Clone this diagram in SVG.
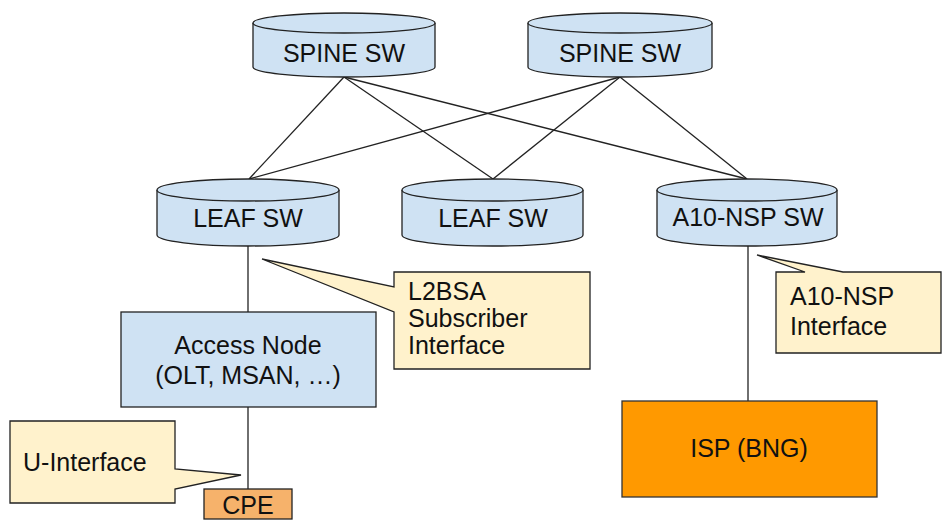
<svg xmlns="http://www.w3.org/2000/svg" width="942" height="521" viewBox="0 0 942 521">
<style>
.cyl{fill:#cfe2f3;stroke:#222;stroke-width:1.3}
.box{fill:#cfe2f3;stroke:#222;stroke-width:1.3}
.call{fill:#fff2cc;stroke:#222;stroke-width:1.3}
.conn{stroke:#222;stroke-width:1.3;fill:none}
text{font-family:"Liberation Sans",Arial,sans-serif;font-size:25px;fill:#111}
.c{text-anchor:middle}
</style>
<rect width="942" height="521" fill="#fff"/>
<g id="connectors">
<line class="conn" x1="344" y1="77" x2="249" y2="179"/>
<line class="conn" x1="344" y1="77" x2="493" y2="179"/>
<line class="conn" x1="344" y1="77" x2="747" y2="179"/>
<line class="conn" x1="620" y1="77" x2="249" y2="179"/>
<line class="conn" x1="620" y1="77" x2="493" y2="179"/>
<line class="conn" x1="620" y1="77" x2="747" y2="179"/>
<line class="conn" x1="248" y1="246" x2="248" y2="312"/>
<line class="conn" x1="248" y1="407" x2="248" y2="490"/>
<line class="conn" x1="748" y1="246" x2="748" y2="401"/>
</g>
<g id="spine1">
<path class="cyl" d="M253,23 A91,10 0 0 1 435,23 V67 A91,10 0 0 1 253,67 Z"/>
<path class="cyl" d="M253,23 A91,10 0 0 0 435,23"/>
<text class="c" x="344" y="62">SPINE SW</text>
</g>
<g id="spine2">
<path class="cyl" d="M528,23 A92,10 0 0 1 712,23 V67 A92,10 0 0 1 528,67 Z"/>
<path class="cyl" d="M528,23 A92,10 0 0 0 712,23"/>
<text class="c" x="620" y="62">SPINE SW</text>
</g>
<g id="leaf1">
<path class="cyl" d="M157,190 A91,11 0 0 1 339,190 V235 A91,11 0 0 1 157,235 Z"/>
<path class="cyl" d="M157,190 A91,11 0 0 0 339,190"/>
<text class="c" x="248" y="227">LEAF SW</text>
</g>
<g id="leaf2">
<path class="cyl" d="M402,190 A90.5,11 0 0 1 583,190 V235 A90.5,11 0 0 1 402,235 Z"/>
<path class="cyl" d="M402,190 A90.5,11 0 0 0 583,190"/>
<text class="c" x="493" y="227">LEAF SW</text>
</g>
<g id="a10sw">
<path class="cyl" d="M657,190 A90,11 0 0 1 837,190 V235 A90,11 0 0 1 657,235 Z"/>
<path class="cyl" d="M657,190 A90,11 0 0 0 837,190"/>
<text class="c" x="748" y="226">A10-NSP SW</text>
</g>
<g id="access-node">
<rect class="box" x="121" y="312" width="255" height="95"/>
<text class="c" x="248" y="354">Access Node</text>
<text class="c" x="248" y="384">(OLT, MSAN, …)</text>
</g>
<g id="cpe">
<rect x="204" y="489" width="88" height="30" fill="#f6b26b" stroke="#222" stroke-width="1.3"/>
<text class="c" x="248" y="514">CPE</text>
</g>
<g id="isp">
<rect x="622" y="401" width="255" height="96" fill="#ff9900" stroke="#333" stroke-width="1.3"/>
<text class="c" x="749" y="457">ISP (BNG)</text>
</g>
<g id="callout-l2bsa">
<path class="call" d="M394,272 H590 V369 H394 V312 L262,259 L394,287 Z"/>
<text x="408" y="300">L2BSA</text>
<text x="408" y="327">Subscriber</text>
<text x="408" y="354">Interface</text>
</g>
<g id="callout-a10">
<path class="call" d="M776,272 H805 L757,255 L843,272 H941 V353 H776 Z"/>
<text x="790" y="305">A10-NSP</text>
<text x="790" y="335">Interface</text>
</g>
<g id="callout-u">
<path class="call" d="M10,421 H175 V469 L241,475 L175,489 V503 H10 Z"/>
<text x="23" y="471">U-Interface</text>
</g>
</svg>
